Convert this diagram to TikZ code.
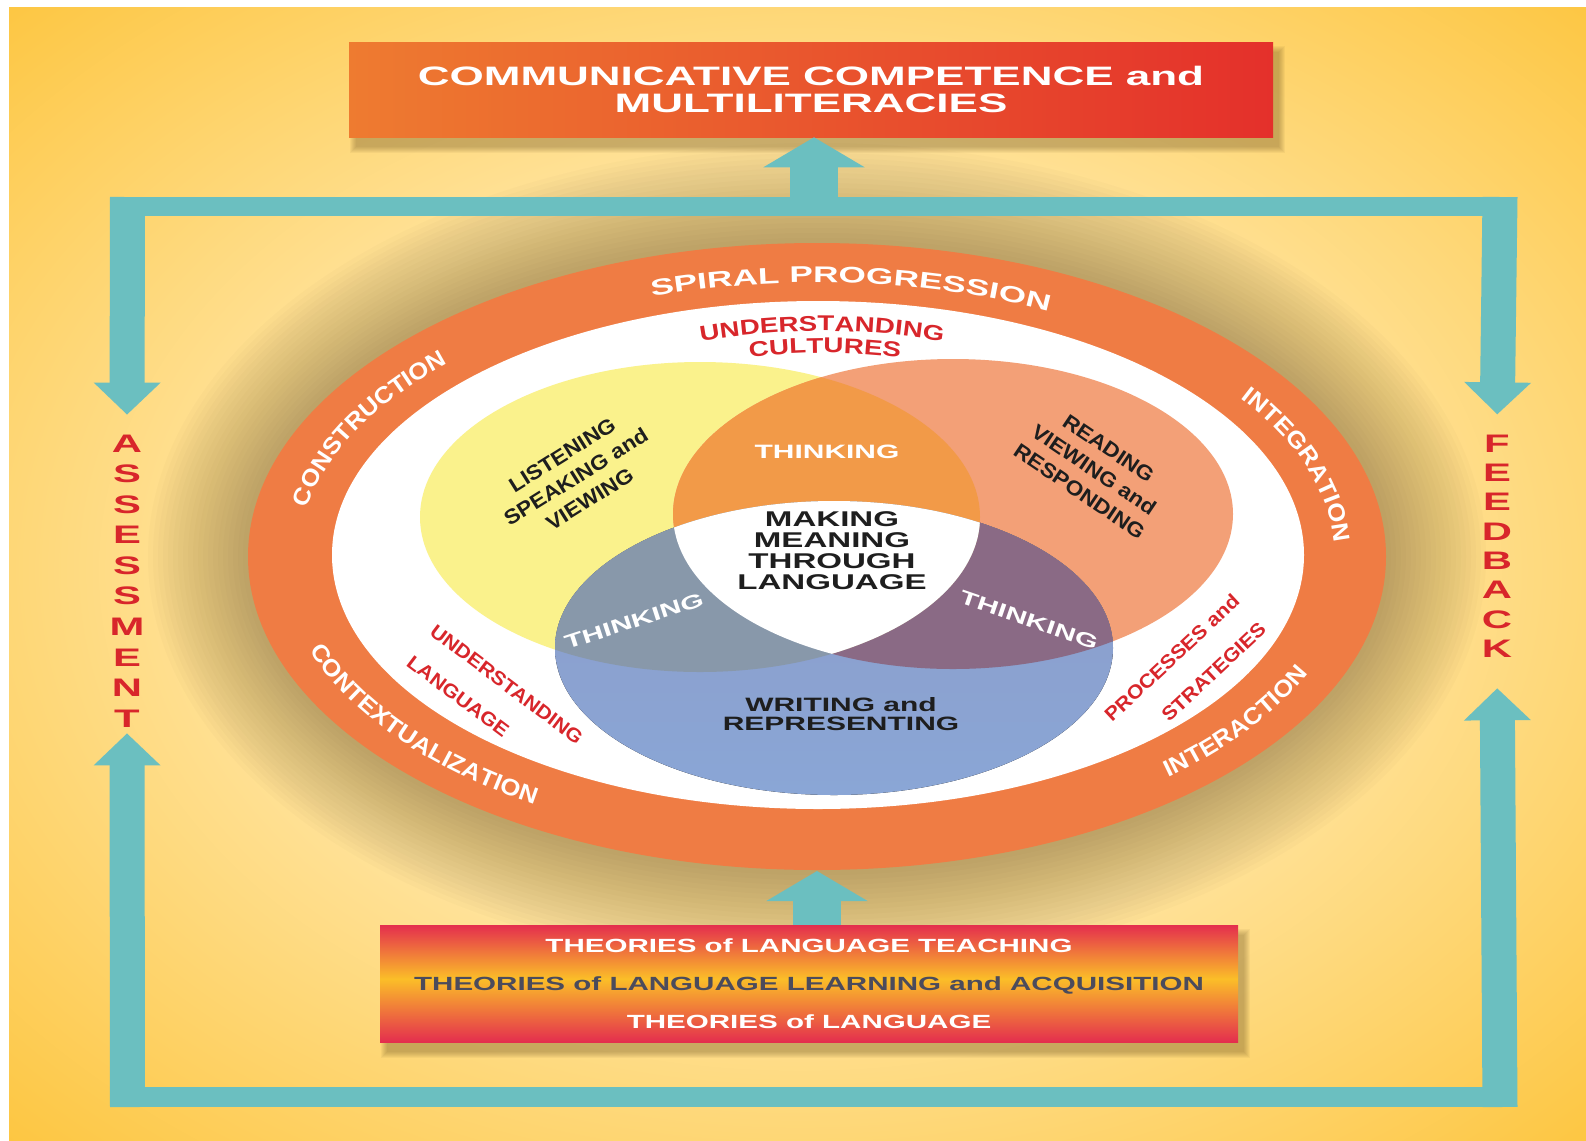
\documentclass[tikz,border=0pt]{standalone}
\usepackage{fontspec}
\usepackage{tikz}
\usetikzlibrary{arrows.meta,decorations.text}

\newfontfamily\titlefont{Liberation Sans}[FakeStretch=1.65]
\newfontfamily\labelfont{Liberation Sans}[FakeStretch=1.55]
\newfontfamily\softfont{Liberation Sans}[FakeStretch=1.3]
\newfontfamily\plainfont{Liberation Sans}[FakeStretch=1.1]
\newcommand\ringfont{\labelfont\bfseries\fontsize{17}{20}\selectfont}
\newcommand\ringsidefont{\plainfont\bfseries\fontsize{17.5}{20}\selectfont}
\newcommand\redtopfont{\softfont\bfseries\fontsize{16}{19}\selectfont}

\definecolor{bglight}{HTML}{FFE39C}
\definecolor{bgdeep}{HTML}{FDC53E}
\definecolor{halobrown}{HTML}{6B5020}
\definecolor{framecyan}{HTML}{6BBFC0}
\definecolor{ringorange}{HTML}{EF7C44}
\definecolor{boxorange}{HTML}{EE7B30}
\definecolor{boxred}{HTML}{E4302B}
\definecolor{theored}{HTML}{E42E4E}
\definecolor{theoyellow}{HTML}{FBBE28}
\definecolor{theogray}{HTML}{4B4B5C}
\definecolor{lsvyellow}{HTML}{FAF28C}
\definecolor{rvrsalmon}{HTML}{F3A077}
\definecolor{thinkorange}{HTML}{F29A48}
\definecolor{wrbluetop}{HTML}{8C9CC8}
\definecolor{wrbluebot}{HTML}{8AA6D6}
\definecolor{thinkslate}{HTML}{8898AA}
\definecolor{thinkmauve}{HTML}{8A6A85}
\definecolor{textred}{HTML}{D8262B}
\definecolor{textdark}{HTML}{1E1E1E}

\pgfdeclareverticalshading{theoryshade}{100bp}{color(0bp)=(theored); color(25bp)=(theored); color(52bp)=(theoyellow); color(75bp)=(theored); color(100bp)=(theored)}
\pgfdeclareradialshading{bgshade}{\pgfpoint{0bp}{0bp}}{color(0bp)=(bglight); color(12bp)=(bglight); color(25bp)=(bgdeep); color(50bp)=(bgdeep)}

\begin{document}
\begin{tikzpicture}[x=0.75pt,y=0.75pt,yscale=-1,xscale=1,
  sidearrow/.style={draw=framecyan,line width=26.25pt,-{Triangle[width=48.75pt,length=24pt]}},
  mainarrow/.style={draw=framecyan,line width=36pt,-{Triangle[width=75pt,length=22.5pt]}},
  titlebox/.style={left color=boxorange,right color=boxred,minimum width=693pt,minimum height=71.25pt,inner sep=0pt,align=center,text=white,font=\titlefont\bfseries\fontsize{20}{20.5}\selectfont},
  theorybox/.style={shade,shading=theoryshade,minimum width=643.5pt,minimum height=87.75pt,inner sep=0pt,align=center,text=white,font=\labelfont\bfseries\fontsize{14.3}{28.5}\selectfont},
  sidetext/.style={inner sep=0pt,align=center,text=textred,font=\titlefont\bfseries\fontsize{19}{22.9}\selectfont},
  ringtext/.style={decorate,decoration={text along path,text align=center,text color=white,text={#1}}},
  redarc/.style={decorate,decoration={text along path,text align=center,text color=textred,text={#1}}},
  venntext/.style={inner sep=0pt,align=center,text=textdark,font=\plainfont\bfseries\fontsize{15.5}{19.5}\selectfont},
  thinktext/.style={inner sep=0pt,text=white,font=\labelfont\bfseries\fontsize{14.5}{17}\selectfont},
  redtext/.style={inner sep=0pt,text=textred,font=\plainfont\bfseries\fontsize{14.5}{29}\selectfont},
  centertext/.style={inner sep=0pt,align=center,text=textdark,font=\labelfont\bfseries\fontsize{16}{15.75}\selectfont}
]
\useasboundingbox (0,0) rectangle (1586,1140);

%Shape: Background
\fill[white] (0,0) rectangle (1586,1140);
\begin{scope}
\clip (9,7) rectangle (1586,1140);
\shade[shading=bgshade] (800,570) ellipse [x radius=1150,y radius=820];
\end{scope}

%Shape: halo around the ring
\foreach \k in {1,...,20}
  \fill[halobrown,opacity=0.024] (817,556.5) ellipse [x radius={569+5*\k},y radius={313.5+5*\k}];

%Shape: Ellipse (outer ring)
\fill[ringorange] (817,556.5) ellipse [x radius=569,y radius=313.5];
%Shape: Ellipse (inner white)
\fill[white] (818,555) ellipse [x radius=486,y radius=254];
\coordinate (ringbottom) at (817,871);

%Shape: Venn ellipses
\fill[lsvyellow] (700,517) ellipse [x radius=280,y radius=155];
\fill[rvrsalmon] (953,514) ellipse [x radius=280,y radius=155];
\fill[top color=wrbluetop,bottom color=wrbluebot] (834,648) ellipse [x radius=279,y radius=147];
\begin{scope}
\clip (953,514) ellipse [x radius=280,y radius=155];
\fill[thinkmauve] (834,648) ellipse [x radius=279,y radius=147];
\end{scope}
\begin{scope}
\clip (700,517) ellipse [x radius=280,y radius=155];
\fill[thinkorange] (953,514) ellipse [x radius=280,y radius=155];
\fill[thinkslate] (834,648) ellipse [x radius=279,y radius=147];
\clip (953,514) ellipse [x radius=280,y radius=155];
\fill[white] (834,648) ellipse [x radius=279,y radius=147];
\end{scope}

% Text Path: ring
\path[ringtext={|\ringfont|SPIRAL PROGRESSION}] (817,556.5) ++(-110:520 and 274) arc[start angle=-110,end angle=-62,x radius=520,y radius=274];
\path[ringtext={|\ringsidefont|CONSTRUCTION}] (817,556.5) ++(-172:518 and 275) arc[start angle=-172,end angle=-134,x radius=518,y radius=275];
\path[ringtext={|\ringsidefont|INTEGRATION}] (817,556.5) ++(-35:518 and 275) arc[start angle=-35,end angle=-3,x radius=518,y radius=275];
\path[ringtext={|\ringsidefont|CONTEXTUALIZATION}] (817,556.5) ++(-196:536 and 292) arc[start angle=-196,end angle=-240,x radius=536,y radius=292];
\path[ringtext={|\ringsidefont|INTERACTION}] (817,556.5) ++(-309:536 and 292) arc[start angle=-309,end angle=-339,x radius=536,y radius=292];

% Text Path: understanding cultures
\path[redarc={|\redtopfont|UNDERSTANDING}] (822,556) ++(-135:400 and 225) arc[start angle=-135,end angle=-45,x radius=400,y radius=225];
\path[redarc={|\redtopfont|CULTURES}] (825,556) ++(-135:350 and 203) arc[start angle=-135,end angle=-45,x radius=350,y radius=203];

% Text Node
\node[venntext,rotate=32] (lsv) at (576,477) {LISTENING\\SPEAKING and\\VIEWING};
% Text Node
\node[venntext,rotate=-34] (rvr) at (1094,470) {READING\\VIEWING and\\RESPONDING};
% Text Node
\node[thinktext] (think-top) at (827,452) {THINKING};
% Text Node
\node[thinktext,rotate=18] (think-left) at (634,621) {THINKING};
% Text Node
\node[thinktext,rotate=-19] (think-right) at (1029,620) {THINKING};
% Text Node
\node[centertext] (meaning) at (832,551) {MAKING\\MEANING\\THROUGH\\LANGUAGE};
% Text Node
\node[centertext,font=\labelfont\bfseries\fontsize{14.5}{14}\selectfont] (writing) at (841,714) {WRITING and\\REPRESENTING};
% Text Node
\node[redtext,rotate=-37,align=left] (ulang) at (495,700) {UNDERSTANDING\\LANGUAGE};
% Text Node
\node[redtext,rotate=43,align=right] (procs) at (1185,672) {PROCESSES and\\STRATEGIES};

%Shape: box shadows
\foreach \k in {0,...,6}
  \fill[halobrown,opacity=0.06] ({356-\k},{52-\k}) rectangle ({1279+\k},{147+\k});
\foreach \k in {0,...,6}
  \fill[halobrown,opacity=0.06] ({387-\k},{935-\k}) rectangle ({1244+\k},{1052+\k});

% Text Node
\node[titlebox] (competence) at (811,89.5) {COMMUNICATIVE COMPETENCE and\\MULTILITERACIES};
% Text Node
\node[theorybox] (theories) at (809,983.5) {THEORIES of LANGUAGE TEACHING\\\textcolor{theogray}{THEORIES of LANGUAGE LEARNING and ACQUISITION}\\THEORIES of LANGUAGE};
% Text Node
\node[sidetext] (assessment) at (127,581) {A\\S\\S\\E\\S\\S\\M\\E\\N\\T};
% Text Node
\node[sidetext,font=\titlefont\bfseries\fontsize{19}{22}\selectfont] (feedback) at (1497,546) {F\\E\\E\\D\\B\\A\\C\\K};

%Shape: Frame
\coordinate (tl) at (127.5,197);
\coordinate (tr) at (1500,197);
\coordinate (bl) at (127.5,1107);
\coordinate (br) at (1500,1107);
\coordinate (topjoin) at (814,206);
\fill[framecyan] (110,197) rectangle (1517,216);
\fill[framecyan] (110,1087) rectangle (1517,1107);

%Straight Lines: arrows
\draw[sidearrow,shorten >=15pt] (tl) -- (assessment.north);
\draw[sidearrow,shorten >=4.5pt] (bl) -- (assessment.south);
\draw[sidearrow,shorten >=15pt] (tr) -- (feedback.north);
\draw[sidearrow,shorten >=23pt] (br) -- (feedback.south);
\draw[mainarrow] (topjoin) -- (competence.south -| topjoin);
\draw[mainarrow] (theories.north -| ringbottom) -- (ringbottom);

\end{tikzpicture}
\end{document}
